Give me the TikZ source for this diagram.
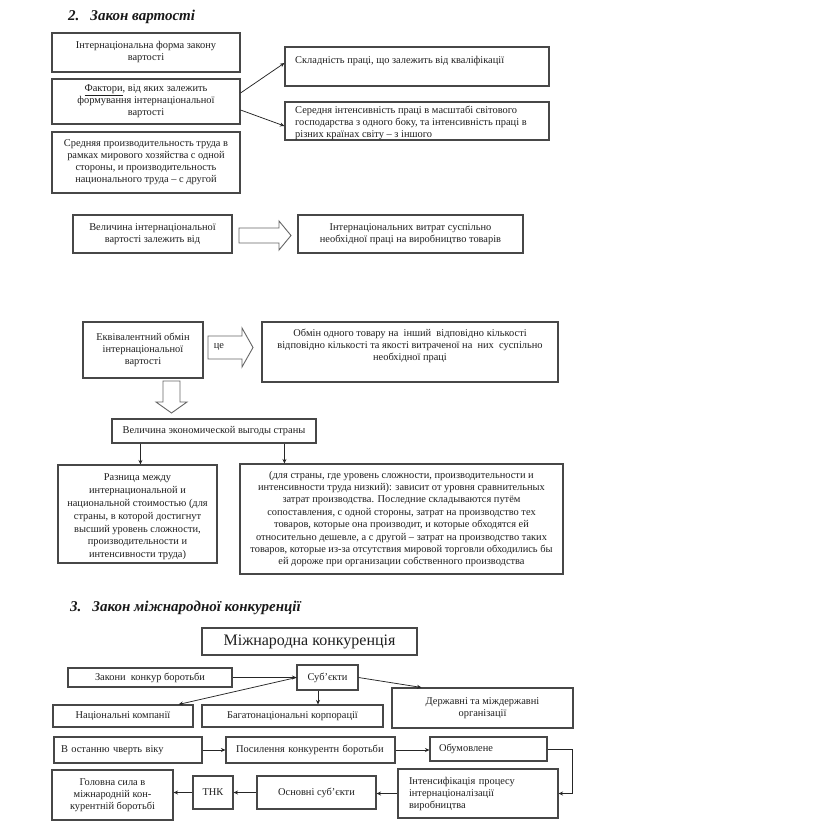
\documentclass[tikz,border=0pt]{standalone}
\usepackage{fontspec}
\setmainfont{Liberation Serif}
\usetikzlibrary{arrows.meta,calc}
\newcommand{\fs}{\fontsize{10.4}{12}\selectfont}
\newcommand{\mybox}[7][]{\node[box,minimum width={(#5-#3)*1pt},minimum height={(#6-#4)*1pt},#1] (#2) at ({(#3+#5)/2},{(#4+#6)/2}) {#7};}
\begin{document}
\begin{tikzpicture}[x=1pt,y=-1pt,
 box/.style={draw=black!72, line width=1.1pt, fill=white, inner sep=1pt, align=center, text=black!88, font=\fs},
 txt/.style={inner sep=0pt, text=black!88, font=\fs},
 arr/.style={-{Stealth[length=4.5pt,width=4pt]}, line width=0.75pt, draw=black!85},
 blk/.style={draw=black!60, line width=0.9pt, fill=white},
 ttl/.style={inner sep=0pt, font=\fontsize{15}{17}\selectfont\bfseries\itshape, text=black!90}]
\useasboundingbox (0,0) rectangle (816,834);
\fill[white] (0,0) rectangle (816,834);

% ---------- section 2
\node[ttl, anchor=west] (t2) at (68,17) {2.\hspace{11pt}Закон вартості};

\mybox{b1}{52}{33}{240}{72}{Інтернаціональна форма закону\\вартості}
\mybox{b2}{52}{79}{240}{124}{\underline{Фактори}, від яких залежить\\формування інтернаціональної\\вартості}
\mybox{b3}{52}{132}{240}{193}{Средняя производительность труда в\\рамках мирового хозяйства с одной\\стороны, и производительность\\национального труда – с другой}

\mybox{r1}{285}{47}{549}{86}{}
\node[txt,anchor=west] (r1t) at (295,61) {Складність праці, що залежить від кваліфікації};
\mybox{r2}{285}{102}{549}{140}{}
\node[txt,anchor=west,align=left] (r2t) at (295,122.5) {Середня інтенсивність праці в масштабі світового\\господарства з одного боку, та інтенсивність праці в\\різних країнах світу – з іншого};

\draw[arr] ($(b2.east)+(0,-8.5)$) -- ($(r1.west)+(0,-3.5)$);
\draw[arr] ($(b2.east)+(0,8.5)$) -- ($(r2.west)+(0,5)$);

\mybox{v1}{73}{215}{232}{253}{Величина інтернаціональної\\вартості залежить від}
\draw[blk] (239,228) -- (279,228) -- (279,221) -- (291,235.5) -- (279,250) -- (279,243) -- (239,243) -- cycle;
\mybox{v2}{298}{215}{523}{253}{Інтернаціональних витрат суспільно\\необхідної праці на виробництво товарів}

\mybox{e1}{83}{322}{203}{378}{Еквівалентний обмін\\інтернаціональної\\вартості}
\draw[blk] (208,336) -- (242,336) -- (242,328) -- (253,347.5) -- (242,367) -- (242,359) -- (208,359) -- cycle;
\node[txt] (ce) at (219,347.5) {це};
\mybox{e2}{262}{322}{558}{382}{}
\node[txt,align=center] (e2t) at (410,346) {Обмін одного товару на\ \ інший\ \ відповідно кількості\\відповідно кількості та якості витраченої на\ \ них\ \ суспільно\\необхідної праці};

\draw[blk] (163,381) -- (180,381) -- (180,402) -- (187,402) -- (171.5,413) -- (156,402) -- (163,402) -- cycle;

\mybox{g}{112}{419}{316}{443}{Величина экономической выгоды страны}
\mybox{g1}{58}{465}{217}{563}{}
\node[txt,align=center,font=\fontsize{10.4}{12.8}\selectfont] (g1t) at (137.5,517) {Разница между\\интернациональной и\\национальной стоимостью (для\\страны, в которой достигнут\\высший уровень сложности,\\производительности и\\интенсивности труда)};
\mybox[font=\fontsize{10.4}{12.4}\selectfont]{g2}{240}{464}{563}{574}{(для страны, где уровень сложности, производительности и\\интенсивности труда низкий): зависит от уровня сравнительных\\затрат производства. Последние складываются путём\\сопоставления, с одной стороны, затрат на производство тех\\товаров, которые она производит, и которые обходятся ей\\относительно дешевле, а с другой – затрат на производство таких\\товаров, которые из-за отсутствия мировой торговли обходились бы\\ей дороже при организации собственного производства}
\draw[arr] ([xshift=29pt]g.south west) -- ([xshift=29pt]g.south west |- g1.north);
\draw[arr] ([xshift=173pt]g.south west) -- ([xshift=173pt]g.south west |- g2.north);

% ---------- section 3
\node[ttl, anchor=west] (t3) at (70,608) {3.\hspace{11pt}Закон міжнародної конкуренції};
\mybox[font=\fontsize{16}{18}\selectfont]{m}{202}{628}{417}{655}{Міжнародна конкуренція}
\mybox{k}{68}{668}{232}{687}{Закони\ \ конкур боротьби}
\mybox{s}{297}{665}{358}{690}{Суб’єкти}
\mybox{n1}{53}{705}{193}{727}{Національні компанії}
\mybox{n2}{202}{705}{383}{727}{Багатонаціональні корпорації}
\mybox{n3}{392}{688}{573}{728}{Державні та міждержавні\\організації}
\draw[arr] (k.east) -- (k.east -| s.west);
\draw[arr] (s.west) -- ([xshift=-15pt]n1.north east);
\draw[arr] ([xshift=-9.5pt]s.south) -- ([xshift=-9.5pt]s.south |- n2.north);
\draw[arr] (s.east) -- ([xshift=30pt]n3.north west);

\mybox[align=left,inner xsep=6pt,text width=134pt]{a1}{54}{737}{202}{763}{В останню чверть віку}
\mybox[align=left,inner xsep=9pt,text width=149pt]{a2}{226}{737}{395}{763}{Посилення конкурентн боротьби}
\mybox[align=left,inner xsep=8pt,text width=99pt]{a3}{430}{737}{547}{761}{Обумовлене}
\mybox[align=left,inner xsep=10pt,text width=138pt]{a4}{398}{769}{558}{818}{Інтенсифікація процесу\\інтернаціоналізації\\виробництва}
\mybox{a5}{257}{776}{376}{809}{Основні суб’єкти}
\mybox{a6}{193}{776}{233}{809}{ТНК}
\mybox{a7}{52}{770}{173}{820}{Головна сила в\\міжнародній кон-\\курентній боротьбі}
\draw[arr] (a1.east) -- (a1.east -| a2.west);
\draw[arr] (a2.east) -- (a2.east -| a3.west);
\draw[arr] (a3.east) -| ($(a4.east)+(13.5,0)$) -- (a4.east);
\draw[arr] (a4.west) -- (a4.west -| a5.east);
\draw[arr] (a5.west) -- (a5.west -| a6.east);
\draw[arr] (a6.west) -- (a6.west -| a7.east);
\end{tikzpicture}
\end{document}
